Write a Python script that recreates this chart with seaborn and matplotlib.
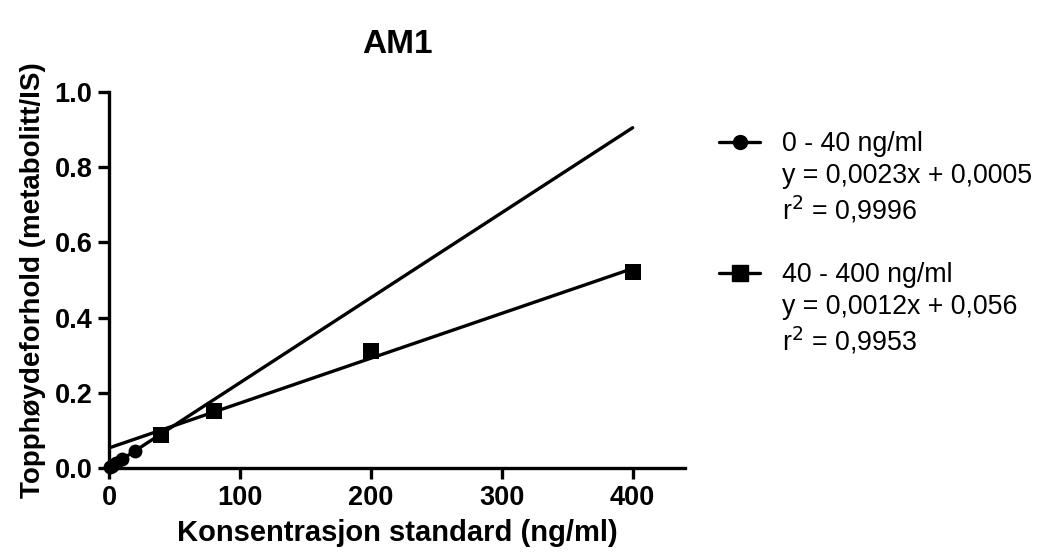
import numpy as np
import pandas as pd
import matplotlib
matplotlib.use("Agg")
import matplotlib.pyplot as plt
from matplotlib.lines import Line2D
import seaborn as sns

# Calibration standards, AM1
conc_low = [1, 2, 5, 10, 20, 40]
ratio_low = [0.003, 0.005, 0.012, 0.023, 0.046, 0.091]
conc_high = [40, 80, 200, 400]
ratio_high = [0.088, 0.152, 0.310, 0.522]

labels_low = ["0 - 40 ng/ml", "y = 0,0023x + 0,0005", "r$^2$ = 0,9996"]
labels_high = ["40 - 400 ng/ml", "y = 0,0012x + 0,056", "r$^2$ = 0,9953"]

x_ticks = [0, 100, 200, 300, 400]
y_ticks = [0.0, 0.2, 0.4, 0.6, 0.8, 1.0]

sns.set_style("ticks", {"axes.edgecolor": "black", "text.color": "black",
                        "axes.labelcolor": "black", "xtick.color": "black",
                        "ytick.color": "black"})
plt.rcParams["font.family"] = ["Liberation Sans", "DejaVu Sans"]

fig = plt.figure(figsize=(10.42, 5.56), dpi=100)
ax = fig.add_axes([0.1046, 0.1583, 0.5528, 0.6763])

# Linear fits, drawn over 0-400 ng/ml
fit_x = np.array([0.0, 400.0])
fits = []
for cx, cy in [(conc_low, ratio_low), (conc_high, ratio_high)]:
    slope, intercept = np.polyfit(cx, cy, 1)
    fits.append(pd.DataFrame({"x": fit_x, "y": slope * fit_x + intercept}))

lw = 2.4
for df in fits:
    sns.lineplot(data=df, x="x", y="y", ax=ax, color="black", linewidth=lw)

low = pd.DataFrame({"x": conc_low, "y": ratio_low})
high = pd.DataFrame({"x": conc_high, "y": ratio_high})
sns.scatterplot(data=low, x="x", y="y", ax=ax, marker="o", s=100,
                color="black", edgecolor="black", linewidth=0, clip_on=False, zorder=4)
sns.scatterplot(data=high, x="x", y="y", ax=ax, marker="s", s=135,
                color="black", edgecolor="black", linewidth=0, clip_on=False, zorder=4)

ax.set_xlim(0, 440)
ax.set_ylim(0, 1.0)
ax.set_xticks(x_ticks)
ax.set_yticks(y_ticks)
ax.set_yticklabels([f"{v:.1f}" for v in y_ticks])
ax.tick_params(axis="both", length=8, width=lw, labelsize=19.5, pad=4, colors="black")
for lab in ax.get_xticklabels() + ax.get_yticklabels():
    lab.set_fontweight("bold")
for side in ["left", "bottom"]:
    ax.spines[side].set_linewidth(lw)
    ax.spines[side].set_color("black")
sns.despine(ax=ax)

ax.set_xlabel("Konsentrasjon standard (ng/ml)", fontsize=21, fontweight="bold",
              labelpad=6, color="black")
ax.set_ylabel("Topphøydeforhold (metabolitt/IS)", fontsize=20, fontweight="bold",
              labelpad=6, color="black")
ax.set_title("AM1", fontsize=24, fontweight="bold", pad=28, color="black")

# Legend: marker on the first line of each entry, equation lines below
h_low = Line2D([], [], color="black", marker="o", markersize=10, linewidth=lw)
h_high = Line2D([], [], color="black", marker="s", markersize=11, linewidth=lw)
blank = Line2D([], [], color="none")
handles = [h_low, blank, blank, blank, h_high, blank, blank]
texts = labels_low + [" "] + labels_high
fig.legend(handles, texts, loc="upper left", bbox_to_anchor=(706 / 1042, 1 - 118 / 556),
           frameon=False, fontsize=19.3, handlelength=1.5, handletextpad=0.85,
           labelspacing=0.2, borderpad=0, labelcolor="black")

fig.savefig("out.png", dpi=100)
